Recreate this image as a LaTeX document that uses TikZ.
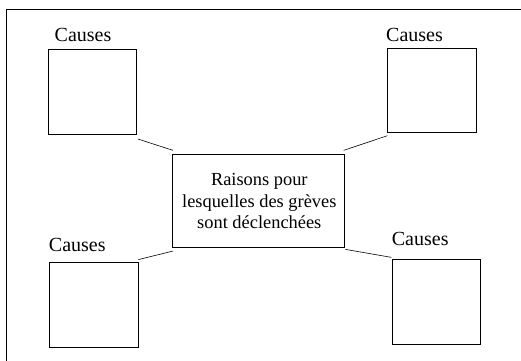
\documentclass[tikz,border=0pt]{standalone}
\usepackage{fontspec}
\setmainfont{Liberation Serif}
\tikzset{cause/.style={draw,line width=0.7pt,inner sep=0pt,minimum width=88pt,minimum height=85pt},
  titre/.style={font=\fontsize{20}{24}\selectfont,inner sep=0pt,anchor=base},
  lien/.style={line width=0.6pt}}
\begin{document}
\begin{tikzpicture}[x=1pt,y=-1pt]
      \useasboundingbox (0,0) rectangle (521,360) ;
      \clip (0,0) rectangle (521,360) ;
      \draw[line width=0.9pt] (6,370)--(6,9)--(530,9) ;
      \node[draw,line width=0.7pt,inner sep=0pt,minimum width=171.6pt,minimum height=93.4pt] %
      (c) at (258.5,201) {} ;
      \node[align=center,font=\fontsize{18.4}{21.7}\selectfont] (ctxt) at (259.3,201.2)
        {Raisons pour\\lesquelles des grèves\\sont déclenchées} ;
      \node[cause,minimum width=88.4pt] (tl) at (92.5,91.8) {} ;
      \node[cause,minimum width=88.6pt,minimum height=84.3pt] (tr) at (432,90.2) {} ;
      \node[cause,minimum width=88.3pt,minimum height=85.7pt] (bl) at (93.8,304.8) {} ;
      \node[cause,minimum width=88.4pt,minimum height=84.6pt] (br) at (436.5,302) {} ;
      \node[titre] (ltl) at (83,41.7) {Causes} ;
      \node[titre] (ltr) at (414.5,41.2) {Causes} ;
      \node[titre] (lbl) at (77.3,251.7) {Causes} ;
      \node[titre] (lbr) at (420.2,245) {Causes} ;
      \draw[lien] ([shift={(1,4.4)}]tl.south east)--([shift={(0.6,-3.6)}]c.north west) ;
      \draw[lien] ([shift={(0,3)}]tr.south west)--([shift={(-1,-3.6)}]c.north east) ;
      \draw[lien] ([shift={(0,-2)}]bl.north east)--([shift={(0.6,3)}]c.south west) ;
      \draw[lien] ([shift={(0.7,1.3)}]c.south east)--([shift={(-0.6,-2)}]br.north west) ;
    \end{tikzpicture}
\end{document}
